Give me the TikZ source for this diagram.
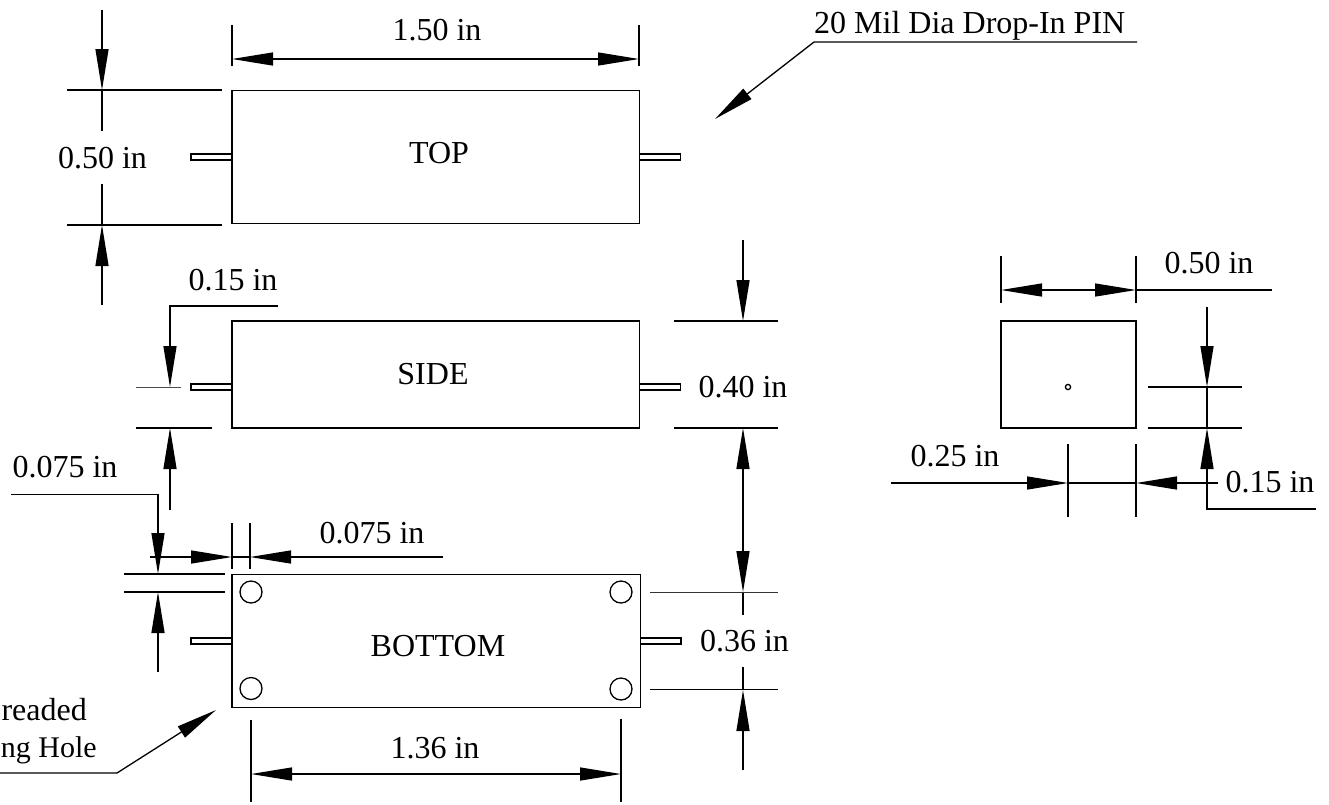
\documentclass[tikz,border=0pt]{standalone}
\usepackage{fontspec}
\setmainfont{Liberation Serif}
\usetikzlibrary{arrows.meta}
\tikzset{
  ln/.style={line width=1.3pt,black},
  thinln/.style={line width=0.8pt,black!70},
  midln/.style={line width=1.1pt,black!80},
  tipend/.style={ln,-{Triangle[length=41pt,width=13pt]}},
  tipboth/.style={ln,{Triangle[length=41pt,width=13pt]}-{Triangle[length=41pt,width=13pt]}},
  body/.style={draw,line width=1.5pt,black},
  pinbody/.style={draw,line width=1.1pt,black},
  lab/.style={inner sep=0pt,anchor=base,font=\fontsize{32}{36}\selectfont,text=black},
}
\begin{document}
\begin{tikzpicture}[x=1pt,y=-1pt]
\useasboundingbox (0,0) rectangle (1329,804);
% bodies
\draw[body] (232,90.5) rectangle (639.5,223.5);
\draw[body] (232,321) rectangle (639.5,428);
\draw[body] (232,574.5) rectangle (640.5,707.5);
\draw[body] (1001,321) rectangle (1136,428);
% pins
\foreach \y/\h in {154/160,384/390,638/644}{
  \draw[pinbody] (232,\y) -- (191,\y) -- (191,\h) -- (232,\h);
}
\foreach \y/\h in {154/160,384/390}{
  \draw[pinbody] (639.5,\y) -- (680.5,\y) -- (680.5,\h) -- (639.5,\h);
}
\draw[pinbody] (640.5,638) -- (681,638) -- (681,644) -- (640.5,644);
% holes
\foreach \x/\y in {251/592,251/688.5,621/592,621/689}{
  \draw[ln] (\x,\y) circle[radius=11];
}
\draw[ln] (1068,387) circle[radius=2.6];
% view labels
\node[lab] (top) at (439,163) {TOP};
\node[lab] (side) at (433,384) {SIDE};
\node[lab] (bottom) at (438,656) {BOTTOM};
% 1.50 in
\draw[ln] (232,25) -- (232,66);
\draw[ln] (639,25) -- (639,66);
\draw[tipboth] (232,59) -- (639,59);
\node[lab] (d150) at (437,40) {1.50 in};
% 0.50 in left
\draw[ln] (67,90) -- (222,90);
\draw[ln] (67,225) -- (222,225);
\draw[tipend] (102,10) -- (102,90);
\draw[ln] (102,90) -- (102,131);
\draw[ln] (102,184) -- (102,225);
\draw[tipend] (102,305) -- (102,225);
\node[lab] (d050) at (102.5,168) {0.50 in};
% pin leader
\node[lab,anchor=base west] (pin) at (814,33) {20 Mil Dia Drop-In PIN};
\draw[tipend] (1137,42) -- (814,42) -- (715,119);
% 0.15 in side
\node[lab] (d015) at (233,290) {0.15 in};
\draw[tipend] (278,306) -- (170,306) -- (170,387);
\draw[thinln] (136,387) -- (181,387);
\draw[ln] (136,428) -- (212,428);
\draw[tipend] (170,510) -- (170,428);
% 0.40 / 0.36 column
\draw[ln] (674,321) -- (778,321);
\draw[ln] (674,428) -- (778,428);
\draw[tipend] (743,240) -- (743,321);
\draw[tipboth] (743,428) -- (743,592);
\draw[ln] (743,592) -- (743,615);
\node[lab] (d040) at (743,397) {0.40 in};
\draw[midln] (650,592.5) -- (778,592.5);
\draw[ln] (650,689.5) -- (778,689.5);
\draw[ln] (743,667) -- (743,690);
\draw[tipend] (743,770) -- (743,690);
\node[lab] (d036) at (744.5,651) {0.36 in};
% 0.075 vertical
\node[lab] (d075a) at (65,477) {0.075 in};
\draw[tipend] (11,494.5) -- (158,494.5) -- (158,574);
\draw[ln] (124,574) -- (225,574);
\draw[ln] (124,592) -- (225,592);
\draw[tipend] (158,672) -- (158,592);
% 0.075 horizontal
\draw[ln] (232,523) -- (232,569);
\draw[ln] (250,523) -- (250,569);
\draw[tipend] (150,557) -- (232,557);
\draw[ln] (232,557) -- (250,557);
\draw[tipend] (443,557) -- (250,557);
\node[lab] (d075b) at (372,543) {0.075 in};
% 1.36 in
\draw[ln] (251,720) -- (251,802);
\draw[ln] (621,719) -- (621,802);
\draw[tipboth] (251,774) -- (621,774);
\node[lab] (d136) at (435,758) {1.36 in};
% mounting hole leader
\node[lab,anchor=base east] (mh1) at (87,720) {readed};
\node[lab,anchor=base east,font=\fontsize{30}{36}\selectfont] (mh2) at (97,757) {ng Hole};
\draw[tipend] (0,773) -- (117,773) -- (216,710);
% right view
\draw[ln] (1001,256) -- (1001,303);
\draw[ln] (1136,256) -- (1136,303);
\draw[tipboth] (1001,290) -- (1136,290);
\draw[ln] (1136,290) -- (1272,290);
\node[lab] (d050r) at (1209,273) {0.50 in};
\draw[tipend] (1207,307) -- (1207,387);
\draw[ln] (1207,387) -- (1207,428);
\draw[ln] (1148,387) -- (1242,387);
\draw[ln] (1148,428) -- (1242,428);
\draw[tipend] (1316,509) -- (1207,509) -- (1207,428);
\node[lab] (d015r) at (1270,492) {0.15 in};
\draw[ln] (1068,444) -- (1068,517);
\draw[ln] (1136,444) -- (1136,517);
\draw[tipend] (891,483) -- (1068,483);
\draw[ln] (1068,483) -- (1136,483);
\draw[tipend] (1218,483) -- (1136,483);
\node[lab] (d025) at (955,466) {0.25 in};
\end{tikzpicture}
\end{document}
